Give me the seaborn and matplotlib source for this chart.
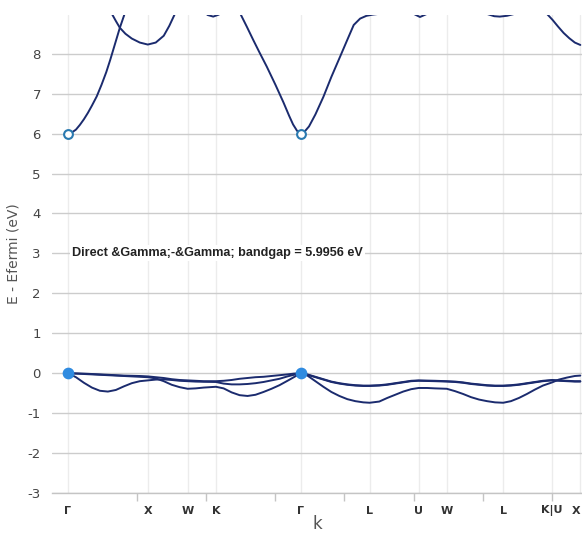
import matplotlib
matplotlib.use("Agg")
import matplotlib.pyplot as plt
import seaborn as sns
import numpy as np

# high-symmetry path (FCC), k in 2pi/a units
SYM_K = [0.0, 1.0, 1.5, 1.854, 2.914, 3.780, 4.393, 4.746, 5.453, 6.066, 6.419]
SYM_LABELS = ["Γ", "X", "W", "K", "Γ", "L", "U", "W", "L", "K|U", "X"]

# valence bands
K_VB = [0.0, 0.1, 0.2, 0.3, 0.4, 0.5, 0.6, 0.7, 0.8, 0.9, 1.0,          # G-X
        1.1, 1.2, 1.3, 1.4, 1.5,                                        # X-W
        1.6, 1.7, 1.854,                                                # W-K
        1.95, 2.05, 2.15, 2.25, 2.35, 2.45, 2.55, 2.65, 2.75, 2.83, 2.914,  # K-G
        3.0, 3.1, 3.2, 3.3, 3.4, 3.5, 3.6, 3.7, 3.78,                   # G-L
        3.9, 4.0, 4.1, 4.2, 4.3, 4.393,                                 # L-U
        4.5, 4.6, 4.746,                                                # U-W
        4.85, 4.95, 5.05, 5.15, 5.25, 5.35, 5.453,                      # W-L
        5.55, 5.65, 5.75, 5.85, 5.95, 6.066,                            # L-K|U
        6.15, 6.25, 6.35, 6.419]                                        # U-X
VB_TOP = [0.0, -0.005, -0.01, -0.02, -0.03, -0.04, -0.05, -0.06, -0.065, -0.07, -0.08,
          -0.1, -0.12, -0.15, -0.17, -0.18,
          -0.19, -0.2, -0.2,
          -0.19, -0.17, -0.14, -0.12, -0.1, -0.09, -0.07, -0.05, -0.03, -0.01, 0.0,
          -0.03, -0.09, -0.15, -0.21, -0.25, -0.28, -0.3, -0.31, -0.31,
          -0.3, -0.28, -0.25, -0.22, -0.19, -0.18,
          -0.185, -0.19, -0.2,
          -0.21, -0.23, -0.26, -0.28, -0.3, -0.31, -0.31,
          -0.3, -0.28, -0.25, -0.22, -0.19, -0.17,
          -0.18, -0.19, -0.2, -0.2]
VB_MID = [0.0, -0.01, -0.02, -0.03, -0.04, -0.05, -0.06, -0.07, -0.08, -0.09, -0.1,
          -0.13, -0.2, -0.29, -0.35, -0.39,
          -0.38, -0.36, -0.34,
          -0.38, -0.48, -0.55, -0.57, -0.54, -0.47, -0.39, -0.3, -0.19, -0.1, 0.0,
          -0.04, -0.1, -0.16, -0.22, -0.26, -0.29, -0.31, -0.32, -0.32,
          -0.31, -0.29, -0.26, -0.23, -0.2, -0.19,
          -0.195, -0.2, -0.21,
          -0.22, -0.24, -0.27, -0.29, -0.31, -0.32, -0.32,
          -0.31, -0.29, -0.26, -0.23, -0.2, -0.18,
          -0.19, -0.2, -0.21, -0.21]
VB_LOW = [0.0, -0.1, -0.24, -0.36, -0.44, -0.46, -0.42, -0.33, -0.25, -0.2, -0.18,
          -0.16, -0.155, -0.17, -0.19, -0.2,
          -0.21, -0.215, -0.22,
          -0.26, -0.28, -0.28, -0.27, -0.25, -0.22, -0.18, -0.14, -0.08, -0.04, 0.0,
          -0.06, -0.2, -0.34, -0.47, -0.57, -0.65, -0.7, -0.73, -0.74,
          -0.71, -0.62, -0.54, -0.46, -0.4, -0.37,
          -0.37, -0.38, -0.39,
          -0.45, -0.52, -0.6, -0.66, -0.7, -0.73, -0.74,
          -0.7, -0.62, -0.52, -0.41, -0.31, -0.23,
          -0.16, -0.11, -0.07, -0.06]

# conduction band pieces (values above 9 eV are clipped by the axes)
CB1_K = [0.0, 0.05, 0.1, 0.15, 0.2, 0.25, 0.3, 0.36, 0.42, 0.48, 0.53, 0.59, 0.65, 0.71, 0.8]
CB1_E = [6.0, 6.03, 6.1, 6.22, 6.36, 6.52, 6.7, 6.93, 7.22, 7.54, 7.85, 8.25, 8.65, 9.0, 9.5]
CB2_K = [0.5, 0.55, 0.6, 0.65, 0.72, 0.8, 0.9, 1.0, 1.1, 1.2, 1.27, 1.34, 1.42]
CB2_E = [9.35, 9.0, 8.82, 8.65, 8.5, 8.38, 8.28, 8.23, 8.28, 8.45, 8.7, 9.0, 9.4]
CB3_K = [1.68, 1.75, 1.82, 1.89, 1.95]
CB3_E = [9.1, 8.97, 8.93, 8.98, 9.1]
CB4_K = [2.05, 2.16, 2.24, 2.32, 2.4, 2.49, 2.6, 2.7, 2.77, 2.82, 2.87, 2.914,
         2.96, 3.02, 3.1, 3.2, 3.3, 3.41, 3.5, 3.58, 3.66, 3.74, 3.82, 3.9, 3.98]
CB4_E = [9.45, 9.0, 8.68, 8.35, 8.03, 7.68, 7.22, 6.78, 6.45, 6.23, 6.07, 6.0,
         6.04, 6.18, 6.48, 6.92, 7.42, 7.93, 8.35, 8.72, 8.88, 8.95, 8.98, 9.0, 9.05]
CB5_K = [4.27, 4.33, 4.41, 4.5, 4.56]
CB5_E = [9.1, 9.0, 8.92, 9.0, 9.1]
CB6_K = [5.2, 5.26, 5.34, 5.41, 5.5, 5.58, 5.64]
CB6_E = [9.05, 8.99, 8.94, 8.93, 8.95, 8.99, 9.05]
CB7_K = [5.93, 6.0, 6.07, 6.14, 6.21, 6.28, 6.35, 6.419]
CB7_E = [9.15, 9.0, 8.85, 8.68, 8.52, 8.39, 8.28, 8.22]

VBM_K = [0.0, 2.914]
VBM_E = [0.0, 0.0]
CBM_K = [0.0, 2.914]
CBM_E = [6.0, 6.0]

GAP_TEXT = "Direct &Gamma;-&Gamma; bandgap = 5.9956 eV"

sns.set_theme(style="whitegrid")
plt.rcParams["font.family"] = ["DejaVu Sans"]
plt.rcParams["axes.unicode_minus"] = False

LINE = "#1b2b6e"

fig = plt.figure(figsize=(5.82, 5.33), dpi=100)
ax = fig.add_axes([52 / 582, 40 / 533, 530 / 582, 478 / 533])
ax.set_facecolor("white")

for e in (VB_TOP, VB_MID, VB_LOW):
    sns.lineplot(x=K_VB, y=e, ax=ax, color=LINE, lw=1.4, sort=False,
                 estimator=None, zorder=3)
for kk, ee in [(CB1_K, CB1_E), (CB2_K, CB2_E), (CB3_K, CB3_E), (CB4_K, CB4_E),
               (CB5_K, CB5_E), (CB6_K, CB6_E), (CB7_K, CB7_E)]:
    sns.lineplot(x=kk, y=ee, ax=ax, color=LINE, lw=1.4, sort=False,
                 estimator=None, zorder=3)

ax.scatter(VBM_K, VBM_E, s=55, color="#2f8be0", edgecolor="#2f8be0", zorder=5,
           clip_on=False)
ax.scatter(CBM_K, CBM_E, s=40, facecolor="white", edgecolor="#2a7ab0",
           linewidths=1.5, zorder=5, clip_on=False)

ax.set_xlim(-0.2, 6.44)
ax.set_ylim(-3, 8.97)
ax.set_yticks(range(-3, 9))
ax.set_xticks(SYM_K)
ax.set_xticklabels(SYM_LABELS, fontweight="bold", fontsize=8, color="#333333")
ax.get_xticklabels()[-1].set_horizontalalignment("right")
ax.set_xticks(np.arange(0, 6.5, 0.866), minor=True)

ax.grid(axis="y", color="#cccccc", lw=1)
ax.grid(axis="x", color="#ececec", lw=1)
ax.grid(which="minor", visible=False)
for side in ("top", "right", "left"):
    ax.spines[side].set_visible(False)
ax.spines["bottom"].set_color("#c4c4c4")
ax.spines["bottom"].set_linewidth(1)

ax.tick_params(axis="x", which="major", length=0, pad=9)
ax.tick_params(axis="x", which="minor", length=6, width=1, color="#c4c4c4",
               direction="out", bottom=True)
ax.tick_params(axis="y", length=0, labelsize=9.5, labelcolor="#444444", pad=8)

ax.set_xlabel("k", fontsize=12, color="#555555", labelpad=-1)
ax.set_ylabel("E - Efermi (eV)", fontsize=10, color="#555555", labelpad=5)

ax.text(0.05, 3, GAP_TEXT, fontsize=9.1, fontweight="bold", color="#222222",
        family=["Liberation Sans", "DejaVu Sans"],
        va="center", ha="left", zorder=4,
        bbox=dict(facecolor="white", edgecolor="none", pad=1.5))

fig.savefig("out.png", dpi=100)
